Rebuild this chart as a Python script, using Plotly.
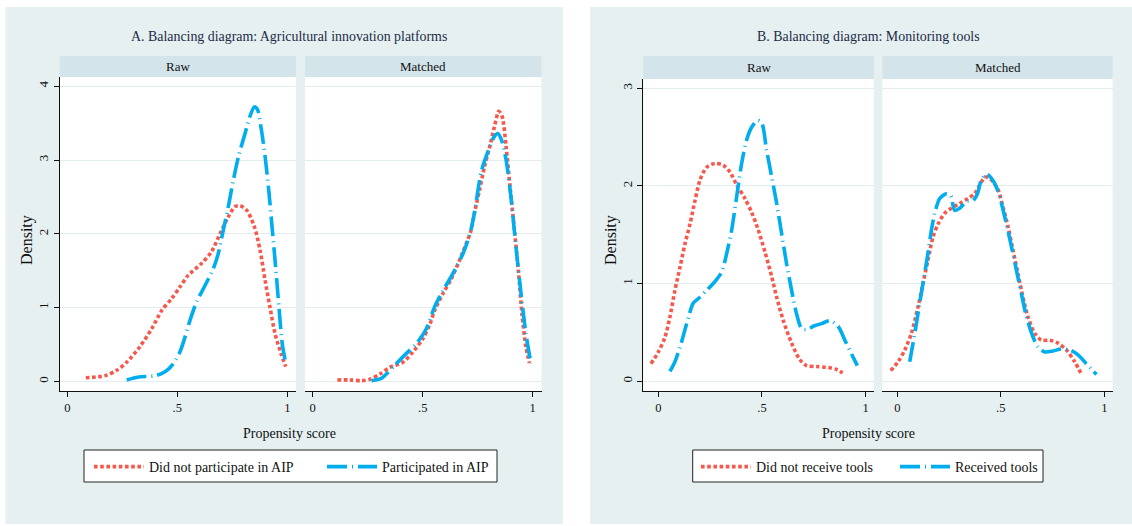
import plotly.graph_objects as go

W, H = 1132, 526
FONT = "Liberation Serif"

# ---- Panel A: agricultural innovation platforms (density of propensity score) ----
a_raw_non_x = [0.084, 0.171, 0.224, 0.27, 0.33, 0.383, 0.429, 0.474, 0.512, 0.55, 0.611, 0.656,
               0.694, 0.732, 0.762, 0.785, 0.815, 0.85, 0.876, 0.899, 0.921, 0.944, 0.971, 0.993]
a_raw_non_y = [0.05, 0.077, 0.15, 0.26, 0.47, 0.71, 0.96, 1.12, 1.28, 1.44, 1.60, 1.76,
               2.0, 2.23, 2.37, 2.38, 2.32, 2.10, 1.78, 1.37, 1.01, 0.65, 0.38, 0.20]
a_raw_par_x = [0.27, 0.323, 0.399, 0.444, 0.482, 0.512, 0.535, 0.558, 0.588, 0.626, 0.664, 0.686,
               0.709, 0.732, 0.755, 0.78, 0.808, 0.83, 0.85, 0.865, 0.88, 0.899, 0.917, 0.932,
               0.947, 0.962, 0.977, 0.99]
a_raw_par_y = [0.02, 0.06, 0.077, 0.13, 0.24, 0.40, 0.60, 0.83, 1.08, 1.30, 1.53, 1.73,
               2.05, 2.37, 2.73, 3.07, 3.36, 3.59, 3.72, 3.68, 3.45, 3.05, 2.55, 2.05,
               1.55, 1.01, 0.51, 0.29]
a_mat_non_x = [0.112, 0.169, 0.222, 0.26, 0.305, 0.35, 0.41, 0.456, 0.501, 0.531, 0.554, 0.592,
               0.63, 0.667, 0.698, 0.72, 0.735, 0.758, 0.781, 0.803, 0.826, 0.846, 0.861, 0.879,
               0.897, 0.917, 0.936, 0.951, 0.969, 0.985]
a_mat_non_y = [0.02, 0.02, 0.01, 0.03, 0.10, 0.19, 0.26, 0.40, 0.58, 0.76, 0.96, 1.19,
               1.39, 1.64, 1.87, 2.05, 2.28, 2.59, 2.91, 3.16, 3.45, 3.66, 3.59, 3.18,
               2.64, 2.05, 1.46, 0.92, 0.47, 0.25]
a_mat_par_x = [0.267, 0.312, 0.335, 0.373, 0.426, 0.471, 0.516, 0.554, 0.592, 0.637, 0.683, 0.713,
               0.735, 0.766, 0.796, 0.826, 0.841, 0.856, 0.879, 0.901, 0.924, 0.947, 0.969, 0.992]
a_mat_par_y = [0.01, 0.04, 0.10, 0.22, 0.38, 0.51, 0.71, 1.01, 1.23, 1.46, 1.73, 1.98,
               2.28, 2.84, 3.11, 3.32, 3.36, 3.29, 3.0, 2.50, 1.82, 1.19, 0.65, 0.24]

# ---- Panel B: monitoring tools ----
b_raw_non_x = [-0.035, 0.0, 0.032, 0.056, 0.08, 0.105, 0.129, 0.153, 0.177, 0.201, 0.233, 0.273,
               0.314, 0.346, 0.378, 0.418, 0.45, 0.482, 0.515, 0.547, 0.571, 0.603, 0.643, 0.683,
               0.715, 0.764, 0.82, 0.86, 0.889]
b_raw_non_y = [0.18, 0.30, 0.45, 0.66, 0.93, 1.17, 1.41, 1.61, 1.85, 2.06, 2.19, 2.23,
               2.21, 2.14, 2.01, 1.87, 1.73, 1.55, 1.32, 1.07, 0.86, 0.62, 0.39, 0.22,
               0.16, 0.15, 0.14, 0.12, 0.085]
b_raw_rec_x = [0.056, 0.08, 0.105, 0.137, 0.169, 0.201, 0.233, 0.273, 0.306, 0.33, 0.354, 0.378,
               0.402, 0.426, 0.45, 0.478, 0.498, 0.522, 0.547, 0.571, 0.595, 0.619, 0.643, 0.667,
               0.691, 0.715, 0.756, 0.788, 0.828, 0.868, 0.9, 0.932, 0.96]
b_raw_rec_y = [0.10, 0.20, 0.35, 0.59, 0.80, 0.86, 0.93, 1.02, 1.12, 1.31, 1.55, 1.89,
               2.23, 2.47, 2.60, 2.67, 2.65, 2.37, 2.09, 1.82, 1.51, 1.20, 0.93, 0.69,
               0.54, 0.53, 0.57, 0.59, 0.62, 0.56, 0.42, 0.28, 0.16]
b_mat_non_x = [-0.032, 0.004, 0.036, 0.068, 0.1, 0.124, 0.148, 0.173, 0.197, 0.229, 0.261, 0.301,
               0.341, 0.373, 0.398, 0.425, 0.454, 0.487, 0.511, 0.535, 0.559, 0.583, 0.607, 0.631,
               0.664, 0.696, 0.736, 0.776, 0.817, 0.857, 0.892]
b_mat_non_y = [0.11, 0.20, 0.32, 0.49, 0.76, 1.0, 1.24, 1.48, 1.61, 1.72, 1.77, 1.82,
               1.87, 1.92, 2.01, 2.09, 2.06, 1.96, 1.78, 1.58, 1.34, 1.10, 0.86, 0.66,
               0.49, 0.42, 0.42, 0.39, 0.32, 0.20, 0.06]
b_mat_rec_x = [0.06, 0.076, 0.092, 0.108, 0.124, 0.145, 0.165, 0.181, 0.205, 0.237, 0.258, 0.277,
               0.301, 0.334, 0.366, 0.387, 0.406, 0.43, 0.454, 0.478, 0.503, 0.527, 0.551, 0.575,
               0.599, 0.624, 0.656, 0.68, 0.712, 0.752, 0.793, 0.833, 0.873, 0.913, 0.962]
b_mat_rec_y = [0.20, 0.39, 0.59, 0.80, 1.0, 1.27, 1.55, 1.72, 1.87, 1.92, 1.90, 1.75,
               1.77, 1.84, 1.85, 1.92, 2.06, 2.12, 2.08, 1.99, 1.82, 1.61, 1.38, 1.14,
               0.90, 0.66, 0.45, 0.35, 0.30, 0.31, 0.33, 0.32, 0.27, 0.18, 0.07]

x_ticks = [0, 0.5, 1]
x_tick_text = ["0", ".5", "1"]
a_y_ticks = [0, 1, 2, 3, 4]
b_y_ticks = [0, 1, 2, 3]

panel_titles = ["A. Balancing diagram: Agricultural innovation platforms",
                "B. Balancing diagram: Monitoring tools"]
strip_labels = ["Raw", "Matched"]
legend_names = [["Did not participate in AIP", "Participated in AIP"],
                ["Did not receive tools", "Received tools"]]

RED = "#f8584b"
BLUE = "#00adef"
PANEL_BG = "#e6f0f1"
STRIP_BG = "#d4e4eb"
GRID = "#e3edef"
INK = "#111111"


def px(x):
    return x / W


def py(y):
    return 1 - y / H


fig = go.Figure()

# subplot geometry in pixels: (left, right, top, bottom)
boxes = [
    (59.6, 296.1, 77, 391),
    (305.0, 541.5, 77, 391),
    (643.4, 873.9, 79, 391),
    (882.4, 1112.6, 79, 391),
]
x_ranges = [[-0.035, 1.04], [-0.035, 1.04], [-0.072, 1.04], [-0.072, 1.04]]
y_ranges = [[-0.13, 4.125], [-0.13, 4.125], [-0.10, 3.094], [-0.10, 3.094]]

series = [
    (a_raw_non_x, a_raw_non_y, a_raw_par_x, a_raw_par_y),
    (a_mat_non_x, a_mat_non_y, a_mat_par_x, a_mat_par_y),
    (b_raw_non_x, b_raw_non_y, b_raw_rec_x, b_raw_rec_y),
    (b_mat_non_x, b_mat_non_y, b_mat_rec_x, b_mat_rec_y),
]

shapes = []
annotations = []

# panel backgrounds
for (l, r) in [(5.5, 563), (590, 1132)]:
    shapes.append(dict(type="rect", xref="paper", yref="paper", x0=px(l), x1=px(r),
                       y0=py(524), y1=py(7), fillcolor=PANEL_BG, line_width=0, layer="below"))

for i, (l, r, t, b) in enumerate(boxes):
    n = i + 1
    xa = "xaxis" if n == 1 else f"xaxis{n}"
    ya = "yaxis" if n == 1 else f"yaxis{n}"
    is_raw = i % 2 == 0
    fig.layout[xa] = dict(domain=[px(l), px(r)], anchor=f"y{n}" if n > 1 else "y",
                          range=x_ranges[i], tickvals=x_ticks, ticktext=x_tick_text,
                          showgrid=False, zeroline=False, showline=True, linecolor=INK,
                          linewidth=1, ticks="outside", ticklen=5, tickcolor=INK,
                          tickfont=dict(family=FONT, size=12.5, color=INK))
    fig.layout[ya] = dict(domain=[py(b), py(t)], anchor=f"x{n}" if n > 1 else "x",
                          range=y_ranges[i], tickvals=a_y_ticks if i < 2 else b_y_ticks,
                          showgrid=True, gridcolor=GRID, gridwidth=1, zeroline=False,
                          showline=is_raw, linecolor=INK, linewidth=1,
                          ticks="outside" if is_raw else "", ticklen=5, tickcolor=INK,
                          showticklabels=is_raw, tickangle=-90,
                          tickfont=dict(family=FONT, size=13, color=INK))
    # white plotting area
    shapes.append(dict(type="rect", xref="paper", yref="paper", x0=px(l), x1=px(r),
                       y0=py(b), y1=py(t), fillcolor="white", line_width=0, layer="below"))
    # strip header
    st = 56
    shapes.append(dict(type="rect", xref="paper", yref="paper", x0=px(l), x1=px(r),
                       y0=py(t), y1=py(st), fillcolor=STRIP_BG, line_width=0, layer="below"))
    annotations.append(dict(text=strip_labels[i % 2], xref="paper", yref="paper",
                            x=px((l + r) / 2), y=py((st + t) / 2), showarrow=False,
                            xanchor="center", yanchor="middle",
                            font=dict(family=FONT, size=13, color=INK)))

    nx, ny, tx, ty = series[i]
    panel = i // 2
    leg = "legend" if panel == 0 else "legend2"
    fig.add_trace(go.Scatter(x=nx, y=ny, mode="lines", name=legend_names[panel][0],
                             xaxis=f"x{n}" if n > 1 else "x", yaxis=f"y{n}" if n > 1 else "y",
                             line=dict(color=RED, width=3.6, dash="3.6px,2.6px",
                                       shape="spline", smoothing=0.8),
                             legend=leg, showlegend=is_raw))
    fig.add_trace(go.Scatter(x=tx, y=ty, mode="lines", name=legend_names[panel][1],
                             xaxis=f"x{n}" if n > 1 else "x", yaxis=f"y{n}" if n > 1 else "y",
                             line=dict(color=BLUE, width=3.6, dash="20px,5px,1px,5px",
                                       shape="spline", smoothing=0.8),
                             legend=leg, showlegend=is_raw))

# titles and shared axis labels
for cx, title in zip([289, 868], panel_titles):
    annotations.append(dict(text=title, xref="paper", yref="paper", x=px(cx), y=py(37),
                            showarrow=False, xanchor="center", yanchor="middle",
                            font=dict(family=FONT, size=13.9, color="#1d2c48")))
    annotations.append(dict(text="Propensity score", xref="paper", yref="paper",
                            x=px(cx), y=py(433), showarrow=False, xanchor="center",
                            yanchor="middle", font=dict(family=FONT, size=14, color=INK)))
for cx in [27, 611]:
    annotations.append(dict(text="Density", xref="paper", yref="paper", x=px(cx), y=py(240),
                            showarrow=False, textangle=-90, xanchor="center", yanchor="middle",
                            font=dict(family=FONT, size=16, color=INK)))

# legend frames (the legend entries themselves sit on top, borderless)
for (l, r) in [(84, 497), (692.7, 1043)]:
    shapes.append(dict(type="rect", xref="paper", yref="paper", x0=px(l), x1=px(r),
                       y0=py(482), y1=py(450), fillcolor="white",
                       line=dict(color="#222222", width=1), layer="above"))

legend_style = dict(orientation="h", xanchor="left", yanchor="top", bgcolor="rgba(0,0,0,0)",
                    borderwidth=0, itemwidth=50,
                    font=dict(family=FONT, size=14, color=INK), tracegroupgap=0)

fig.update_layout(
    width=W, height=H,
    margin=dict(l=0, r=0, t=0, b=0),
    paper_bgcolor="white",
    plot_bgcolor="rgba(0,0,0,0)",
    shapes=shapes,
    annotations=annotations,
    legend=dict(x=px(89), y=py(451), entrywidth=168, **legend_style),
    legend2=dict(x=px(696), y=py(451), entrywidth=134, **legend_style),
)

fig.write_html("out.html")
